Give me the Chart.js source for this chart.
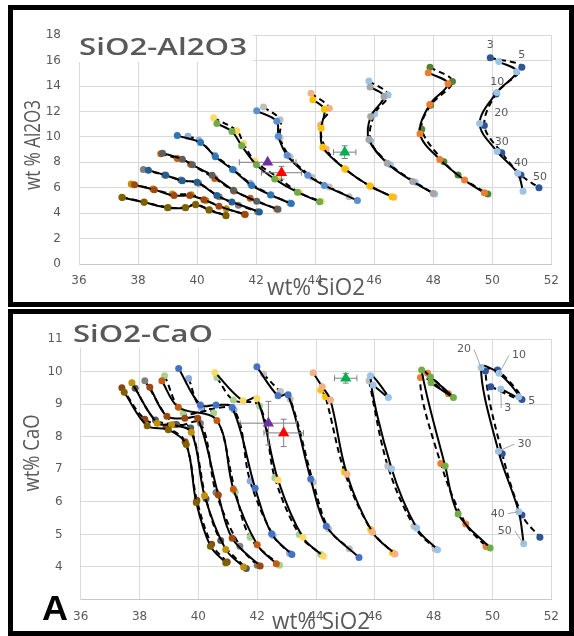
<!DOCTYPE html>
<html>
<head>
<meta charset="utf-8">
<script src="https://cdn.jsdelivr.net/npm/chart.js@4.4.1/dist/chart.umd.min.js"></script>
<style>
  body { margin: 0; background: #fff; width: 574px; height: 636px; position: relative; overflow: hidden; }
  .frame { position: absolute; border: 5px solid #000; box-sizing: border-box; background: #fff; }
  canvas { position: absolute; }
</style>
</head>
<body>
<div class="frame" style="left:8px;top:5px;width:566px;height:302px"></div>
<div class="frame" style="left:8px;top:309px;width:566px;height:327px"></div>
<canvas id="alChart" width="556" height="292" style="left:13px;top:10px"></canvas>
<canvas id="caChart" width="556" height="317" style="left:13px;top:314px"></canvas>
<script>
// ---- data: SiO2 vs Al2O3 (solid / dashed model runs) ----
const al1Solid = [[37.47,5.23],[38.21,4.85],[39.0,4.43],[39.61,4.43],[39.95,4.67],[40.40,4.25],[40.98,3.80]];
const al1Dash  = [[37.45,5.25],[38.2,4.88],[39.02,4.45],[39.6,4.45],[39.95,4.7],[40.42,4.27],[40.97,3.83]];
const al2Solid = [[37.88,6.23],[38.55,5.85],[39.22,5.38],[39.75,5.38],[40.23,5.05],[40.74,4.55],[41.63,3.90]];
const al2Dash  = [[37.77,6.30],[38.5,5.9],[39.16,5.50],[39.8,5.45],[40.3,5.0],[40.99,4.35],[41.6,3.92]];
const al3Solid = [[38.35,7.38],[38.94,6.98],[39.50,6.55],[40.0,6.43],[40.67,5.38],[41.18,4.88],[42.11,4.10]];
const al3Dash  = [[38.18,7.43],[38.9,7.0],[39.45,6.6],[40.05,6.35],[40.75,5.3],[41.40,4.63],[42.05,4.12]];
const al4Solid = [[38.83,8.72],[39.50,8.25],[39.84,7.80],[40.51,6.98],[41.23,5.80],[42.02,4.93],[42.74,4.30]];
const al4Dash  = [[38.77,8.68],[39.33,8.30],[39.78,7.85],[40.60,6.73],[41.25,5.75],[41.80,5.18],[42.7,4.32]];
const al5Solid = [[39.33,10.10],[40.12,9.55],[40.62,8.43],[41.20,7.43],[41.85,6.18],[42.49,5.43],[43.19,4.75]];
const al5Dash  = [[39.69,10.05],[40.06,9.73],[40.60,8.55],[41.25,7.4],[41.80,6.35],[42.5,5.45],[43.14,4.80]];
const al6Solid = [[40.67,11.05],[41.18,10.43],[41.51,9.30],[42.01,7.80],[42.63,6.68],[43.4,5.65],[44.15,4.9]];
const al6Dash  = [[40.56,11.50],[41.35,10.48],[41.57,9.48],[41.96,8.10],[42.74,6.80],[43.47,5.60],[44.20,4.93]];
const al7Solid = [[42.02,12.05],[42.70,11.23],[42.75,10.05],[43.05,8.55],[43.75,6.98],[44.31,6.18],[45.43,5.0]];
const al7Dash  = [[42.25,12.35],[42.81,11.35],[42.81,9.93],[43.15,8.43],[43.89,6.83],[44.48,6.05],[45.15,5.30]];
const al8Solid = [[43.92,12.93],[44.31,12.18],[44.20,10.68],[44.26,9.18],[45.0,7.5],[45.85,6.15],[46.6,5.3]];
const al8Dash  = [[43.86,13.43],[44.48,12.23],[44.18,10.93],[44.37,9.05],[45.04,7.43],[45.88,6.10],[46.66,5.25]];
const al9Solid = [[45.86,13.93],[46.33,13.18],[45.88,11.60],[45.82,9.80],[46.44,7.93],[47.3,6.5],[48.0,5.55]];
const al9Dash  = [[45.82,14.40],[46.47,13.30],[46.01,11.80],[45.88,9.68],[46.55,7.80],[47.39,6.43],[48.05,5.50]];
const al10Solid = [[47.83,15.05],[48.50,14.18],[47.88,12.55],[47.55,10.25],[48.22,8.23],[49.06,6.60],[49.73,5.60]];
const al10Dash  = [[47.89,15.48],[48.65,14.35],[47.91,12.48],[47.61,10.60],[48.36,8.05],[48.84,7.0],[49.85,5.50]];
const al11Solid = [[50.22,15.93],[50.82,15.13],[50.15,13.50],[49.57,11.05],[50.16,8.85],[50.86,7.13],[51.04,5.72]];
const al11Dash  = [[49.93,16.23],[51.0,15.48],[50.13,13.38],[49.73,10.90],[50.32,8.75],[50.97,7.0],[51.58,6.0]];
// measured samples (triangles) with error bars
const alSampleX = [42.39, 42.86, 45.0];
const alSampleY = [8.0, 7.18, 8.8];
const alSampleXErr = [0.96, 0.68, 0.38];
const alSampleYErr = [0, 0.5, 0.5];

// ---- data: SiO2 vs CaO ----
const ca1Solid = [[37.48,9.37],[38.26,8.34],[38.98,8.22],[39.59,7.76],[39.93,5.98],[40.41,4.64],[40.93,4.13]];
const ca1Dash  = [[37.4,9.51],[38.18,8.54],[38.9,8.3],[39.55,7.85],[39.95,6.05],[40.45,4.7],[40.98,4.15]];
const ca2Solid = [[37.74,9.66],[38.6,8.42],[39.09,8.37],[39.76,8.14],[40.21,6.19],[40.93,4.54],[41.54,4.0]];
const ca2Dash  = [[37.85,9.49],[38.54,8.52],[39.26,8.38],[39.74,8.27],[40.26,6.10],[40.76,4.81],[41.63,3.95]];
const ca3Solid = [[38.35,9.52],[38.93,8.63],[39.54,8.57],[39.98,8.57],[40.68,6.21],[41.15,4.88],[42.1,4.03]];
const ca3Dash  = [[38.18,9.72],[39.2,8.38],[40.07,8.42],[40.6,6.29],[41.41,4.64],[42.0,4.05]];
const ca4Solid = [[38.76,9.72],[39.32,8.91],[40.63,8.50],[41.19,6.39],[42.0,4.68],[42.65,4.10]];
const ca4Dash  = [[38.85,9.88],[39.48,8.73],[40.52,8.73],[41.26,6.31],[41.76,4.91],[42.76,4.05]];
const ca5Solid = [[39.33,10.1],[40.07,8.98],[40.6,8.98],[41.15,8.9],[41.93,6.42],[42.49,5.02],[43.18,4.38]];
const ca5Dash  = [[39.67,9.79],[40.1,8.9],[41.21,8.83],[41.76,6.64],[42.54,4.97],[43.1,4.42]];
const ca6Solid = [[40.56,9.98],[41.52,9.11],[41.99,9.18],[42.71,6.67],[43.55,4.91],[44.25,4.33]];
const ca6Dash  = [[40.63,9.82],[41.19,9.13],[42.08,8.95],[42.6,6.74],[43.43,5.0],[44.16,4.38]];
const ca7Solid = [[41.99,10.15],[42.71,9.26],[43.05,9.29],[43.82,6.70],[44.35,5.25],[45.46,4.29]];
const ca7Dash  = [[42.21,9.93],[42.79,9.39],[43.12,9.16],[43.90,6.61],[44.43,5.17],[45.13,4.56]];
const ca8Solid = [[43.9,9.97],[44.21,9.54],[44.49,9.13],[45.05,6.85],[45.92,5.07],[46.68,4.40]];
const ca8Dash  = [[44.16,9.44],[44.32,9.23],[44.97,6.92],[45.86,5.15],[46.6,4.44]];
const ca9Solid = [[45.94,9.59],[46.46,9.21],[45.85,9.88],[46.57,7.02],[47.42,5.20],[48.13,4.53]];
const ca9Dash  = [[45.8,9.72],[46.44,7.10],[47.33,5.25],[48.05,4.55]];
const ca10Solid = [[47.91,9.66],[48.67,9.21],[47.89,9.84],[47.59,10.05],[48.39,7.10],[48.83,5.63],[49.92,4.58]];
const ca10Dash  = [[47.79,9.95],[48.5,9.32],[47.55,9.82],[48.24,7.18],[49.09,5.32],[49.78,4.63]];
const ca11Solid = [[50.28,9.47],[50.89,9.23],[50.22,9.95],[49.61,10.13],[50.2,7.56],[50.89,5.70],[51.06,4.71]];
const ca11Dash  = [[49.94,9.54],[51.0,9.15],[50.17,10.05],[49.76,10.02],[50.33,7.48],[51.0,5.60],[51.61,4.91]];
const caSampleX = [42.38, 42.9, 45.01];
const caSampleY = [8.42, 8.12, 9.8];
const caSampleXErr = [0.96, 0.67, 0.38];
const caSampleYErr = [0.67, 0.42, 0.15];

// labels on the last run
const ratioLabels = ['3', '5', '10', '20', '30', '40', '50'];
const xTicks = [36, 38, 40, 42, 44, 46, 48, 50, 52];

// ---- styles ----
const alCurves = [al1Solid, al1Dash, al2Solid, al2Dash, al3Solid, al3Dash, al4Solid, al4Dash, al5Solid, al5Dash,
  al6Solid, al6Dash, al7Solid, al7Dash, al8Solid, al8Dash, al9Solid, al9Dash, al10Solid, al10Dash, al11Solid, al11Dash];
const alColors = ['#7f6000','#8c8200', '#a0480f','#c09000', '#255e91','#7f7f7f', '#5f5f5f','#c55a11', '#2e75b6','#8faadc',
  '#70ad47','#ffd966', '#5b8fd5','#bfbfbf', '#ffc000','#f4b183', '#a6a6a6','#9dc3e6', '#ed7d31','#548235', '#9dc3e6','#2f5597'];
const caCurves = [ca1Solid, ca1Dash, ca2Solid, ca2Dash, ca3Solid, ca3Dash, ca4Solid, ca4Dash, ca5Solid, ca5Dash,
  ca6Solid, ca6Dash, ca7Solid, ca7Dash, ca8Solid, ca8Dash, ca9Solid, ca9Dash, ca10Solid, ca10Dash, ca11Solid, ca11Dash];
const caColors = ['#7f6000','#8b4513', '#bf9000','#595959', '#9e480e','#7f7f7f', '#c55a11','#a9d18e', '#4472c4','#8faadc',
  '#ffd966','#a9d18e', '#4472c4','#bfbfbf', '#f4b183','#ffc000', '#9dc3e6','#bfbfbf', '#70ad47','#ed7d31', '#9dc3e6','#2f5597'];
const sampleColors = ['#7030a0', '#ff0000', '#00b050'];
const gray = '#595959';

function toPts(arr) { return arr.map(p => ({ x: p[0], y: p[1] })); }

function buildSets(curves, colors, sx, sy) {
  const sets = [{
    data: sx.map((v, i) => ({ x: v, y: sy[i] })),
    pointStyle: 'triangle', pointRadius: 6.5, pointBorderWidth: 0,
    pointBackgroundColor: sampleColors, showLine: false, order: 0
  }];
  curves.forEach((c, i) => {
    const dashed = i % 2 === 1;
    sets.push({
      data: toPts(c), showLine: true, tension: 0.35,
      borderColor: '#000', borderWidth: 2, borderDash: dashed ? [6, 4] : [],
      pointRadius: 3.5, pointBorderWidth: 0, pointBackgroundColor: colors[i],
      order: dashed ? 2 : 1
    });
  });
  return sets;
}

function fitText(ctx, txt, left, base, font, width, sy, color) {
  ctx.save();
  ctx.font = font;
  ctx.fillStyle = color;
  ctx.textBaseline = 'alphabetic';
  const w = ctx.measureText(txt).width;
  ctx.translate(left, base);
  ctx.scale(width / w, sy);
  ctx.fillText(txt, 0, 0);
  ctx.restore();
}

function rotText(ctx, txt, cx, cy, font, len, thick, color) {
  ctx.save();
  ctx.font = font;
  ctx.fillStyle = color;
  ctx.textAlign = 'center';
  ctx.textBaseline = 'middle';
  const w = ctx.measureText(txt).width;
  ctx.translate(cx, cy);
  ctx.rotate(-Math.PI / 2);
  ctx.scale(len / w, thick);
  ctx.fillText(txt, 0, 0);
  ctx.restore();
}

const extras = {
  id: 'extras',
  beforeDatasetsDraw(chart, args, o) {
    const ctx = chart.ctx;
    ctx.save();
    ctx.fillStyle = '#fff';
    ctx.fillRect(o.titleBox[0], o.titleBox[1], o.titleBox[2], o.titleBox[3]);
    ctx.restore();
    fitText(ctx, o.title, o.titlePos[0], o.titlePos[1], '600 24px "Open Sans"', o.titleW, 1, gray);
  },
  beforeDatasetDraw(chart, args, o) {
    if (args.index !== 0) return;
    const ctx = chart.ctx, xs = chart.scales.x, ys = chart.scales.y;
    ctx.save();
    ctx.strokeStyle = '#7f7f7f';
    ctx.lineWidth = 1;
    o.sx.forEach((v, i) => {
      const px = xs.getPixelForValue(v), py = ys.getPixelForValue(o.sy[i]);
      const x0 = xs.getPixelForValue(v - o.ex[i]), x1 = xs.getPixelForValue(v + o.ex[i]);
      ctx.beginPath();
      ctx.moveTo(x0, py); ctx.lineTo(x1, py);
      ctx.moveTo(x0, py - 3); ctx.lineTo(x0, py + 3);
      ctx.moveTo(x1, py - 3); ctx.lineTo(x1, py + 3);
      if (o.ey[i] > 0) {
        const y0 = ys.getPixelForValue(o.sy[i] + o.ey[i]), y1 = ys.getPixelForValue(o.sy[i] - o.ey[i]);
        ctx.moveTo(px, y0); ctx.lineTo(px, y1);
        ctx.moveTo(px - 3, y0); ctx.lineTo(px + 3, y0);
        ctx.moveTo(px - 3, y1); ctx.lineTo(px + 3, y1);
      }
      ctx.stroke();
    });
    ctx.restore();
  },
  afterDraw(chart, args, o) {
    const ctx = chart.ctx;
    rotText(ctx, o.yTitle, o.yTitlePos[0], o.yTitlePos[1], '400 18px "Open Sans"', o.yTitleLen, 1.2, gray);
    fitText(ctx, 'wt% SiO2', o.xTitlePos[0], o.xTitlePos[1], '400 22px "Open Sans"', 98, 1.05, gray);
    if (o.letter) fitText(ctx, 'A', o.letter[0], o.letter[1], 'bold 35px "Liberation Sans"', 26, 1, '#000');
    // ratio labels on the last run
    const meta = chart.getDatasetMeta(o.labelSet);
    ctx.save();
    ctx.font = '11px "DejaVu Sans"';
    ctx.fillStyle = gray;
    ctx.strokeStyle = '#a6a6a6';
    ctx.lineWidth = 1;
    ctx.textAlign = 'center';
    ctx.textBaseline = 'middle';
    ratioLabels.forEach((t, i) => {
      const el = meta.data[i];
      const lx = el.x + o.labelOff[i][0], ly = el.y + o.labelOff[i][1];
      if (o.leaders) {
        const d = Math.hypot(o.labelOff[i][0], o.labelOff[i][1]);
        if (d > 15) {
          const w = ctx.measureText(t).width;
          const ex = lx - Math.sign(o.labelOff[i][0]) * (w / 2 + 3);
          ctx.beginPath();
          ctx.moveTo(ex, ly);
          ctx.lineTo(el.x, el.y);
          ctx.stroke();
        }
      }
      ctx.fillText(t, lx, ly);
    });
    ctx.restore();
  }
};

function tickFont() { return { family: 'DejaVu Sans', size: 12 }; }

function makeChart(id, sets, yMin, yMax, yStep, xH, yW, pad, extraOpts) {
  return new Chart(document.getElementById(id), {
    type: 'scatter',
    data: { datasets: sets },
    plugins: [extras],
    options: {
      responsive: false,
      animation: false,
      events: [],
      layout: { padding: pad },
      plugins: { legend: { display: false }, tooltip: { enabled: false }, extras: extraOpts },
      scales: {
        x: {
          min: 36, max: 52,
          afterBuildTicks: s => { s.ticks = xTicks.map(v => ({ value: v })); },
          afterFit: s => { s.height = xH; },
          ticks: { color: gray, font: tickFont(), padding: 10, maxRotation: 0 },
          grid: { color: '#d9d9d9', drawTicks: false },
          border: { color: '#c8c8c8' }
        },
        y: {
          min: yMin, max: yMax,
          afterFit: s => { s.width = yW; },
          ticks: { stepSize: yStep, color: gray, font: tickFont(), padding: 18,
            callback: v => (v === 3 && yMin === 3) ? '' : v },
          grid: { color: '#d9d9d9', drawTicks: false },
          border: { color: '#d9d9d9' }
        }
      }
    }
  });
}

makeChart('alChart', buildSets(alCurves, alColors, alSampleX, alSampleY), 0, 18, 2, 38, 66,
  { top: 14, right: 13, left: 0, bottom: 0 },
  {
    title: 'SiO2-Al2O3', titlePos: [66, 45], titleW: 168, titleBox: [62, 22, 178, 30],
    yTitle: 'wt % Al2O3', yTitlePos: [21, 135], yTitleLen: 90,
    xTitlePos: [254, 285],
    sx: alSampleX, sy: alSampleY, ex: alSampleXErr, ey: alSampleYErr,
    labelSet: 22, leaders: false,
    labelOff: [[0, -13], [0, -12], [1, -12], [17, -12], [0, -11], [0, -12], [1, -11]]
  });

makeChart('caChart', buildSets(caCurves, caColors, caSampleX, caSampleY), 3, 11, 1, 31.5, 67.7,
  { top: 23.3, right: 9, left: 0, bottom: 0 },
  {
    title: 'SiO2-CaO', titlePos: [60, 28], titleW: 140, titleBox: [57, 5, 150, 29],
    yTitle: 'wt% CaO', yTitlePos: [20, 139], yTitleLen: 77,
    xTitlePos: [259, 315], letter: [29, 306],
    sx: caSampleX, sy: caSampleY, ex: caSampleXErr, ey: caSampleYErr,
    labelSet: 21, leaders: true,
    labelOff: [[7, 19], [13, 4], [20, -18], [-17, -18], [26, -7], [-21, 2], [-19, -13]]
  });
</script>
</body>
</html>
